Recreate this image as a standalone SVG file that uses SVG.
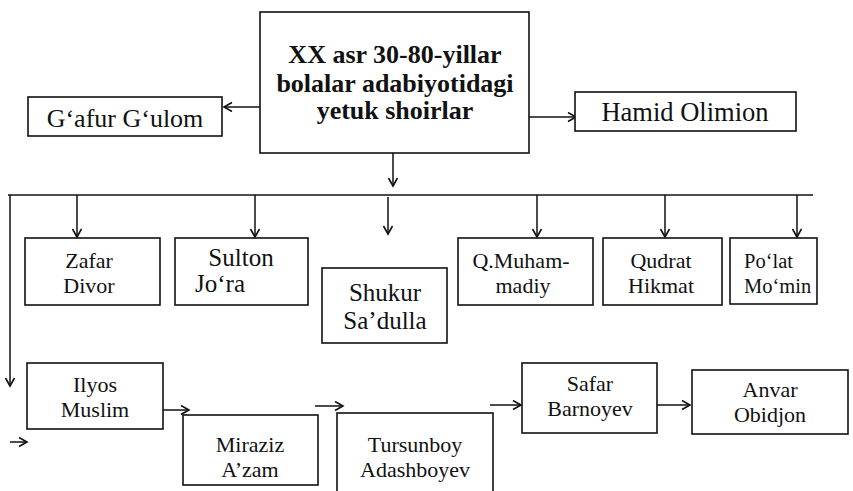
<svg xmlns="http://www.w3.org/2000/svg" width="853" height="491" viewBox="0 0 853 491">
<style>
.box{fill:#fff;stroke:#111;stroke-width:1.6}
.t{font-family:'Liberation Serif','DejaVu Serif',serif;font-size:22px;fill:#111;text-anchor:middle}
.l{text-anchor:start}
.big{font-size:25px}
.title{font-size:26px;font-weight:bold}
.c{stroke:#111;stroke-width:1.5;fill:none}
</style>
<defs>
<marker id="ah" markerUnits="userSpaceOnUse" markerWidth="12" markerHeight="12" refX="9" refY="5" orient="auto">
<path d="M1,0.5 L9,5 L1,9.5" fill="none" stroke="#111" stroke-width="1.6"/>
</marker>
</defs>
<rect width="853" height="491" fill="#fff"/>
<g id="connectors">
<line class="c" x1="260" y1="107" x2="224" y2="107" marker-end="url(#ah)"/>
<line class="c" x1="529" y1="117" x2="576" y2="117" marker-end="url(#ah)"/>
<line class="c" x1="393" y1="153" x2="393" y2="186" marker-end="url(#ah)"/>
<line class="c" x1="8" y1="195" x2="813" y2="195"/>
<line class="c" x1="10" y1="195" x2="10" y2="386" marker-end="url(#ah)"/>
<line class="c" x1="77" y1="195" x2="77" y2="237" marker-end="url(#ah)"/>
<line class="c" x1="255" y1="195" x2="255" y2="237" marker-end="url(#ah)"/>
<line class="c" x1="388" y1="197" x2="388" y2="234" marker-end="url(#ah)"/>
<line class="c" x1="537" y1="195" x2="537" y2="237" marker-end="url(#ah)"/>
<line class="c" x1="665" y1="195" x2="665" y2="237" marker-end="url(#ah)"/>
<line class="c" x1="797" y1="195" x2="797" y2="237" marker-end="url(#ah)"/>
<line class="c" x1="163" y1="410" x2="189" y2="410" marker-end="url(#ah)"/>
<line class="c" x1="10" y1="442" x2="27" y2="442" marker-end="url(#ah)"/>
<line class="c" x1="315" y1="406" x2="343" y2="406" marker-end="url(#ah)"/>
<line class="c" x1="490" y1="405" x2="521" y2="405" marker-end="url(#ah)"/>
<line class="c" x1="657" y1="405" x2="690" y2="405" marker-end="url(#ah)"/>
</g>
<g id="n-title">
<rect class="box" x="260" y="12" width="269" height="141"/>
<text class="t title" x="395" y="63">XX asr 30-80-yillar</text>
<text class="t title" x="395" y="92">bolalar adabiyotidagi</text>
<text class="t title" x="395" y="119">yetuk shoirlar</text>
</g>
<g id="n-gafur">
<rect class="box" x="28" y="97" width="194" height="39"/>
<text class="t" style="font-size:26px" x="125" y="127">G‘afur G‘ulom</text>
</g>
<g id="n-hamid">
<rect class="box" x="575" y="92" width="221" height="39"/>
<text class="t" style="font-size:26.5px" x="685" y="121">Hamid Olimion</text>
</g>
<g id="n-zafar">
<rect class="box" x="25" y="238" width="135" height="67"/>
<text class="t" x="89" y="268">Zafar</text>
<text class="t" x="89" y="293">Divor</text>
</g>
<g id="n-sulton">
<rect class="box" x="175" y="238" width="133" height="67"/>
<text class="t big" x="241" y="266">Sulton</text>
<text class="t big l" x="195" y="292">Jo‘ra</text>
</g>
<g id="n-shukur">
<rect class="box" x="322" y="268" width="125" height="75"/>
<text class="t big" x="385" y="301">Shukur</text>
<text class="t big" x="385" y="329">Sa’dulla</text>
</g>
<g id="n-qmuham">
<rect class="box" x="458" y="238" width="135" height="67"/>
<text class="t" x="521" y="268">Q.Muham-</text>
<text class="t" x="523" y="293">madiy</text>
</g>
<g id="n-qudrat">
<rect class="box" x="603" y="238" width="119" height="67"/>
<text class="t" x="661" y="268">Qudrat</text>
<text class="t" x="661" y="293">Hikmat</text>
</g>
<g id="n-polat">
<rect class="box" x="730" y="238" width="87" height="66"/>
<text class="t l" style="font-size:20.5px" x="744" y="268">Po‘lat</text>
<text class="t l" style="font-size:20.5px" x="744" y="293">Mo‘min</text>
</g>
<g id="n-ilyos">
<rect class="box" x="27" y="363" width="136" height="66"/>
<text class="t" x="95" y="392">Ilyos</text>
<text class="t" x="95" y="417">Muslim</text>
</g>
<g id="n-miraziz">
<rect class="box" x="183" y="415" width="135" height="70"/>
<text class="t" x="250" y="452">Miraziz</text>
<text class="t" x="250" y="477">A’zam</text>
</g>
<g id="n-tursunboy">
<rect class="box" x="337" y="413" width="156" height="90"/>
<text class="t" x="415" y="452">Tursunboy</text>
<text class="t" x="415" y="477">Adashboyev</text>
</g>
<g id="n-safar">
<rect class="box" x="522" y="363" width="135" height="70"/>
<text class="t" x="590" y="391">Safar</text>
<text class="t" x="590" y="416">Barnoyev</text>
</g>
<g id="n-anvar">
<rect class="box" x="692" y="370" width="156" height="64"/>
<text class="t" x="770" y="397">Anvar</text>
<text class="t" x="770" y="422">Obidjon</text>
</g>
</svg>
